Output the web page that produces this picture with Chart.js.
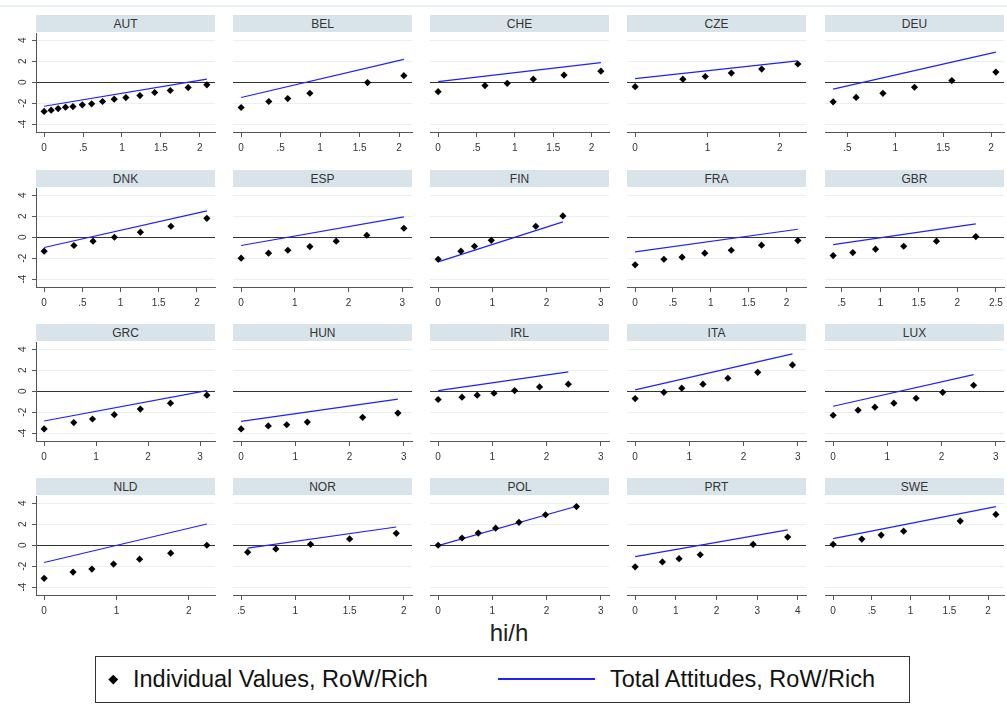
<!DOCTYPE html>
<html>
<head>
<meta charset="utf-8">
<script src="https://cdn.jsdelivr.net/npm/chart.js@4.4.1/dist/chart.umd.min.js"></script>
<style>
  body { margin: 0; background: #fff; font-family: 'Liberation Sans', Arial, sans-serif; }
  #wrap { position: relative; width: 1007px; height: 704px; overflow: hidden; }
  #topline { position: absolute; left: 0; top: 5px; width: 1007px; height: 2px; background: #e9f0f2; }
  .strip { position: absolute; height: 17px; background: #d9e4ea; color: #333; font-size: 12px; line-height: 18px; text-align: center; }
  canvas { position: absolute; }
  #xtitle { position: absolute; left: 0; width: 1018px; top: 619px; line-height: 28px; text-align: center; font-size: 24px; color: #222; }
  #legend { position: absolute; left: 95px; top: 656px; width: 813px; height: 45px; border: 1px solid #333; }
  .ltxt { position: absolute; top: 8px; line-height: 28px; font-size: 23.5px; color: #111; white-space: nowrap; }
  #ldiamond { position: absolute; left: 14px; top: 19px; width: 6.5px; height: 6.5px; background: #000; transform: rotate(45deg); }
  #lline { position: absolute; left: 402px; top: 21px; width: 97px; height: 2px; background: #1f1fff; }
</style>
</head>
<body>
<div id="wrap">
  <div id="topline"></div>
  <div id="xtitle">hi/h</div>
  <div id="legend">
    <div id="ldiamond"></div>
    <div class="ltxt" style="left:37px">Individual Values, RoW/Rich</div>
    <div id="lline"></div>
    <div class="ltxt" style="left:514px">Total Attitudes, RoW/Rich</div>
  </div>
</div>
<script>
// --- data ---
const countries = ['AUT', 'BEL', 'CHE', 'CZE', 'DEU',
                   'DNK', 'ESP', 'FIN', 'FRA', 'GBR',
                   'GRC', 'HUN', 'IRL', 'ITA', 'LUX',
                   'NLD', 'NOR', 'POL', 'PRT', 'SWE'];

// hi/h for each individual value
const xValues = [
    [0, 0.09, 0.18, 0.275, 0.37, 0.49, 0.61, 0.75, 0.90, 1.05, 1.23, 1.42, 1.62, 1.85, 2.09],
    [0, 0.35, 0.59, 0.87, 1.60, 2.06],
    [0, 0.61, 0.90, 1.24, 1.64, 2.12],
    [0, 0.66, 0.97, 1.33, 1.75, 2.25],
    [0.35, 0.59, 0.87, 1.20, 1.59, 2.05],
    [0, 0.39, 0.64, 0.92, 1.26, 1.66, 2.13],
    [0, 0.51, 0.87, 1.28, 1.77, 2.34, 3.03],
    [0, 0.42, 0.67, 0.98, 1.80, 2.30],
    [0, 0.38, 0.62, 0.92, 1.27, 1.67, 2.15],
    [0.39, 0.645, 0.94, 1.305, 1.73, 2.24],
    [0, 0.57, 0.93, 1.35, 1.85, 2.43, 3.13],
    [0, 0.50, 0.84, 1.22, 2.24, 2.89],
    [0, 0.44, 0.72, 1.03, 1.41, 1.87, 2.40],
    [0, 0.53, 0.86, 1.25, 1.71, 2.26, 2.90],
    [0, 0.46, 0.77, 1.12, 1.53, 2.02, 2.59],
    [0, 0.40, 0.66, 0.96, 1.32, 1.75, 2.25],
    [0.56, 0.82, 1.14, 1.50, 1.93],
    [0, 0.44, 0.74, 1.06, 1.49, 1.98, 2.55],
    [0, 0.67, 1.08, 1.60, 2.90, 3.75],
    [0, 0.37, 0.62, 0.91, 1.64, 2.10]
];

// Individual Values, RoW/Rich
const yValues = [
    [-2.79, -2.67, -2.51, -2.38, -2.32, -2.16, -2.06, -1.84, -1.62, -1.46, -1.27, -0.98, -0.79, -0.51, -0.25],
    [-2.41, -1.84, -1.56, -1.05, -0.03, 0.63],
    [-0.90, -0.32, -0.10, 0.29, 0.68, 1.06],
    [-0.42, 0.29, 0.55, 0.87, 1.26, 1.74],
    [-1.87, -1.45, -1.06, -0.48, 0.16, 0.97],
    [-1.33, -0.79, -0.38, 0.0, 0.48, 1.05, 1.81],
    [-2.0, -1.52, -1.24, -0.89, -0.38, 0.19, 0.86],
    [-2.10, -1.33, -0.86, -0.29, 1.05, 2.03],
    [-2.63, -2.10, -1.90, -1.52, -1.24, -0.76, -0.32],
    [-1.75, -1.46, -1.14, -0.86, -0.38, 0.06],
    [-3.60, -2.99, -2.65, -2.24, -1.70, -1.14, -0.38],
    [-3.60, -3.31, -3.20, -2.94, -2.49, -2.08],
    [-0.79, -0.57, -0.38, -0.19, 0.06, 0.41, 0.67],
    [-0.70, -0.10, 0.29, 0.67, 1.24, 1.81, 2.51],
    [-2.29, -1.81, -1.52, -1.14, -0.67, -0.10, 0.57],
    [-3.16, -2.56, -2.28, -1.80, -1.33, -0.76, 0.0],
    [-0.66, -0.35, 0.09, 0.60, 1.14],
    [0.0, 0.69, 1.16, 1.63, 2.19, 2.91, 3.69],
    [-2.06, -1.59, -1.28, -0.91, 0.09, 0.78],
    [0.09, 0.59, 0.97, 1.34, 2.31, 2.94]
];

// Total Attitudes, RoW/Rich: value at the first and at the last hi/h
const lineStart = [-2.29, -1.46, 0.06, 0.35, -0.65, -0.98, -0.79, -2.35, -1.40, -0.70,
                   -2.84, -2.87, 0.06, 0.13, -1.43, -1.65, -0.28, -0.03, -1.09, 0.63];
const lineEnd = [0.29, 2.19, 1.87, 2.03, 2.87, 2.51, 1.94, 1.46, 0.76, 1.27,
                 0.06, -0.76, 1.84, 3.56, 1.59, 2.03, 1.74, 3.72, 1.47, 3.69];

const xTicks = [
    [0, .5, 1, 1.5, 2], [0, .5, 1, 1.5, 2], [0, .5, 1, 1.5, 2], [0, 1, 2], [.5, 1, 1.5, 2],
    [0, .5, 1, 1.5, 2], [0, 1, 2, 3], [0, 1, 2, 3], [0, .5, 1, 1.5, 2], [.5, 1, 1.5, 2, 2.5],
    [0, 1, 2, 3], [0, 1, 2, 3], [0, 1, 2, 3], [0, 1, 2, 3], [0, 1, 2, 3],
    [0, 1, 2], [.5, 1, 1.5, 2], [0, 1, 2, 3], [0, 1, 2, 3, 4], [0, .5, 1, 1.5, 2]
];
const yTicks = [-4, -2, 0, 2, 4];

// --- layout ---
const colLeft = [36, 233, 430, 627, 825];
const rowTop = [33, 188, 342, 496];
const plotW = 179, plotH = 99;
const padTop = 10, padRight = 10, xAxisH = 30;
const yMin = -4.75, yMax = 4.7;

Chart.defaults.font.family = "'Liberation Sans', Arial, sans-serif";
Chart.defaults.font.size = 10;
Chart.defaults.color = '#333';

function fmt(v) {
    return String(v).replace(/^0\./, '.').replace(/^-0\./, '-.');
}

const wrap = document.getElementById('wrap');

countries.forEach(function(name, i) {
    const r = Math.floor(i / 5);
    const c = i % 5;
    const first = c === 0;
    const axisW = first ? 36 : 10;

    // strip header
    const strip = document.createElement('div');
    strip.className = 'strip';
    strip.textContent = name;
    strip.style.left = colLeft[c] + 'px';
    strip.style.top = (rowTop[r] - 18) + 'px';
    strip.style.width = plotW + 'px';
    wrap.appendChild(strip);

    // canvas
    const canvas = document.createElement('canvas');
    canvas.width = axisW + plotW + padRight;
    canvas.height = padTop + plotH + xAxisH;
    canvas.style.left = (colLeft[c] - axisW) + 'px';
    canvas.style.top = (rowTop[r] - padTop) + 'px';
    wrap.appendChild(canvas);

    const xs = xValues[i];
    const ys = yValues[i];
    const ticks = xTicks[i];
    const lo = Math.min(Math.min.apply(null, xs), ticks[0]);
    const hi = Math.max(Math.max.apply(null, xs), ticks[ticks.length - 1]);
    const pad = (hi - lo) * 0.05;

    new Chart(canvas, {
        type: 'scatter',
        data: {
            datasets: [{
                label: 'Individual Values, RoW/Rich',
                data: xs.map((x, k) => ({ x: x, y: ys[k] })),
                pointStyle: 'rectRot',
                pointRadius: 3.6,
                backgroundColor: '#000',
                borderWidth: 0,
                showLine: false
            }, {
                label: 'Total Attitudes, RoW/Rich',
                data: [{ x: xs[0], y: lineStart[i] }, { x: xs[xs.length - 1], y: lineEnd[i] }],
                showLine: true,
                borderColor: '#1f1fff',
                borderWidth: 1.2,
                pointRadius: 0
            }]
        },
        options: {
            responsive: false,
            animation: false,
            events: [],
            layout: { padding: { left: first ? 0 : 10, right: padRight, top: padTop, bottom: 0 } },
            plugins: { legend: { display: false }, tooltip: { enabled: false } },
            scales: {
                x: {
                    type: 'linear',
                    min: lo - pad,
                    max: hi + pad,
                    afterBuildTicks: axis => { axis.ticks = ticks.map(v => ({ value: v })); },
                    afterFit: axis => { axis.height = xAxisH; },
                    grid: { drawOnChartArea: false, drawTicks: true, tickLength: 5, tickColor: '#555' },
                    border: { display: true, color: '#555', width: 1 },
                    ticks: { autoSkip: false, maxRotation: 0, padding: 5, color: '#333', callback: v => fmt(v) }
                },
                y: {
                    type: 'linear',
                    min: yMin,
                    max: yMax,
                    afterBuildTicks: axis => { axis.ticks = yTicks.map(v => ({ value: v })); },
                    afterFit: axis => { axis.width = first ? axisW : 0; },
                    grid: {
                        color: ctx => ctx.tick && ctx.tick.value === 0 ? '#333' : '#e8f0f0',
                        tickColor: '#555',
                        drawTicks: first,
                        tickLength: 4
                    },
                    border: { display: first, color: '#555', width: 1 },
                    ticks: {
                        display: first,
                        autoSkip: false,
                        minRotation: 90,
                        maxRotation: 90,
                        crossAlign: 'center',
                        padding: 4,
                        color: '#333',
                        callback: v => fmt(v)
                    }
                }
            }
        }
    });
});
</script>
</body>
</html>
